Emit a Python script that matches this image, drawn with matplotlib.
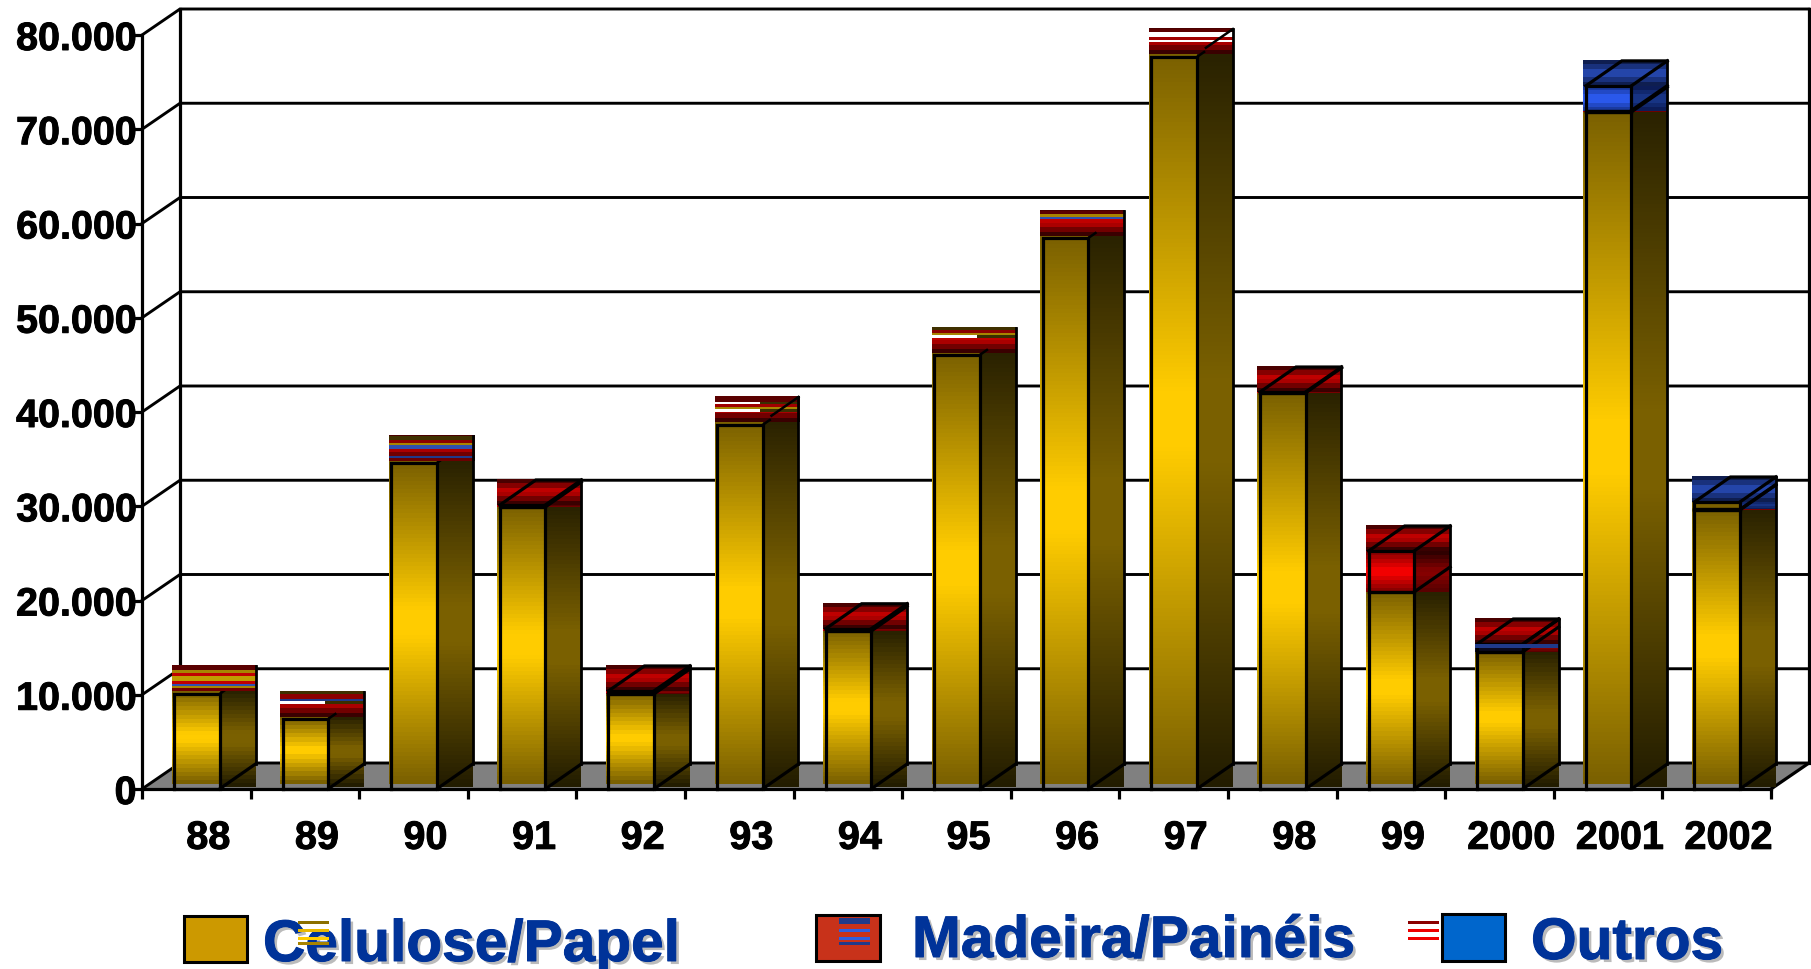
import numpy as np
import matplotlib
matplotlib.use("Agg")
import matplotlib.pyplot as plt
from matplotlib.colors import LinearSegmentedColormap as LSC
from matplotlib.patches import Rectangle, Polygon
from matplotlib.transforms import Affine2D, ScaledTranslation
import matplotlib.patheffects as pe

plt.rcParams['font.family'] = ['Liberation Sans', 'DejaVu Sans']

# ---- data ----
years = ['88', '89', '90', '91', '92', '93', '94', '95', '96', '97', '98', '99', '2000', '2001', '2002']
celulose = [10080, 7430, 34590, 29920, 10080, 38620, 16750, 46050, 58460, 77670, 42020, 20900, 14540, 71830, 29600]
madeira = [220, 180, 130, 210, 320, 240, 250, 130, 130, 310, 100, 4350, 805, 150, 60]
outros = [100, 60, 80, 0, 0, 80, 0, 80, 80, 0, 0, 0, 40, 2620, 790]
y_ticks = [0, 10000, 20000, 30000, 40000, 50000, 60000, 70000, 80000]
y_labels = ['0', '10.000', '20.000', '30.000', '40.000', '50.000', '60.000', '70.000', '80.000']
legend_names = ['Celulose/Papel', 'Madeira/Painéis', 'Outros']

# ---- layout ----
W, H = 1811, 970
X0, X1, Y0, Y1 = 142, 1771, 790, 36
PX = 15 / (X1 - X0)
PY = 80000 / (Y0 - Y1)
WALL_X, WALL_Y = 38 * PX, 26 * PY
BAR_LEFT, BAR_W = 32 * PX, 45.5 * PX
DEPTH_X, DEPTH_Y = 36 * PX, 25 * PY
LW = 2.3
GOLD_F = [(0, '#7a6000'), (.46, '#ffcc00'), (.54, '#ffcc00'), (1, '#7a6000')]
GOLD_S = [(0, '#221c00'), (.44, '#7a6000'), (.56, '#7a6000'), (1, '#2a2200')]
RED_F = [(0, '#8b0000'), (.5, '#ff0000'), (1, '#8b0000')]
RED_S = [(0, '#5a0000'), (.5, '#8b0000'), (1, '#300000')]
RED_C = [(0, '#3a0000'), (.45, '#b80000'), (.6, '#c00000'), (1, '#4a0000')]
BLUE_F = [(0, '#1a3aa0'), (.5, '#2f60ff'), (1, '#1a3aa0')]
BLUE_S = [(0, '#0c1c58'), (.5, '#1a3a90'), (1, '#0c1c58')]
BLUE_C = [(0, '#0f1e50'), (.5, '#2a4fc0'), (1, '#0f1e50')]
# very low boxes whose front face is not drawn in its own colour
THIN_FRONT = {12: [(0, '#0a0a20'), (1, '#0a0a20')], 14: [(0, '#7a6000'), (1, '#7a6000')]}

DR, RD, GD, BL, DB, OL = '#5a0000', '#8b0000', '#a88400', '#2f4fb0', '#1f3a8a', '#3f3000'
# thin bands seen across the caps: (from, to, colour, colour on the side face), as fractions of the cap
STRIPES = {
    0: [(0, .19, DR, DR), (.19, .31, GD, GD), (.31, .42, '#c00000', '#c00000'), (.42, .62, '#c09c00', '#c09c00'),
        (.62, .73, '#c00000', '#c00000'), (.73, .82, BL, BL), (.82, .88, GD, GD), (.88, 1, '#700000', '#700000')],
    1: [(0, .12, OL, OL), (.12, .31, RD, RD), (.31, .39, DB, DB), (.39, .5, 'white', '#3a2e00')],
    2: [(0, .19, OL, OL), (.19, .31, RD, RD), (.31, .38, GD, GD), (.38, .51, BL, BL), (.82, .9, DB, DB), (.9, 1, '#6a0000', '#6a0000')],
    5: [(0, .23, DR, DR), (.23, .31, 'white', '#3a2e00'), (.31, .42, '#a00000', '#a00000'),
        (.42, .5, GD, GD), (.5, .62, 'white', '#3a2e00')],
    7: [(0, .1, OL, OL), (.1, .21, RD, RD), (.21, .29, GD, GD), (.29, .41, 'white', '#3a2e00')],
    8: [(0, .125, DR, DR), (.125, .25, GD, GD), (.25, .35, BL, BL)],
    9: [(0, .12, DR, DR), (.12, .32, 'white', 'white'), (.32, .44, '#a00000', '#a00000'), (.44, .52, 'white', 'white')],
    12: [(1.0, 1.15, DB, DB)],
}
BANDED = (0, 1, 2, 5, 7, 8, 9)

fig = plt.figure(figsize=(W / 100, H / 100), dpi=100, facecolor='white')
ax = fig.add_axes([X0 / W, (H - Y0) / H, (X1 - X0) / W, (Y0 - Y1) / H])
ax.patch.set_visible(False)


def grad(x0, x1, y0, y1, stops, z=5):
    n = max(6, int(abs(y1 - y0) / PY / 4))
    cm = LSC.from_list('g', stops, N=n)
    im = ax.imshow(np.linspace(0, 1, n)[:, None], cmap=cm, extent=(x0, x1, y0, y1), origin='lower',
                   aspect='auto', zorder=z, interpolation='nearest', vmin=0, vmax=1)
    im.set_clip_on(False)


def line(xs, ys, z=5, lw=LW, cap='projecting'):
    ax.plot(xs, ys, color='black', lw=lw, zorder=z, clip_on=False, solid_capstyle=cap, solid_joinstyle='miter')


# walls and floor
ax.add_patch(Polygon([(0, 0), (15, 0), (15 + WALL_X, WALL_Y), (WALL_X, WALL_Y)], closed=True,
                     facecolor='#808080', edgecolor='none', zorder=1, clip_on=False))
for v in y_ticks:
    line([0, WALL_X, 15 + WALL_X], [v, v + WALL_Y, v + WALL_Y], z=2, lw=2.1)
line([WALL_X, WALL_X], [WALL_Y, 80000 + WALL_Y], z=2)
line([15 + WALL_X, 15 + WALL_X], [WALL_Y, 80000 + WALL_Y], z=2)
line([15, 15 + WALL_X], [0, WALL_Y], z=2)

# bars
for i in range(len(years)):
    x0 = i + BAR_LEFT
    x1 = x0 + BAR_W
    x2 = x1 + DEPTH_X
    fringe = 2.5 * PX
    segs = [(0, celulose[i], GOLD_F, GOLD_S)]
    b = celulose[i]
    segs.append((b, b + madeira[i], RED_F, RED_S))
    b += madeira[i]
    if outros[i]:
        segs.append((b, b + outros[i], BLUE_F, BLUE_S))
        b += outros[i]
    total = b
    banded = i in BANDED
    drawn = segs[:1] if banded else segs
    for k, (a, c, f, s) in enumerate(drawn):
        low = 5 * PY if k == 0 else 0
        front = f
        if k > 0 and (c - a) < 1000 and i in THIN_FRONT:
            front = THIN_FRONT[i]
        upper = max(total, c + 1.5 * PY) if (banded and k == 0) else c + (1.5 * PY if k == 0 else 0)
        grad(x0 - fringe, x1, a + low, upper, front)
        grad(x1, x2, a + low * 0.4, total if banded else c, s)
    cap = BLUE_C if outros[i] > madeira[i] else RED_C
    top = total + DEPTH_Y + 0.5 * PY
    grad(x0 - fringe, x2 + 1 * PX, total, top, cap)
    for a, c, f, s in drawn:
        line([x0, x0, x1, x1, x0], [a, c, c, a, a])
        if not banded:
            line([x1, x2], [c, c + DEPTH_Y])
    line([x1, x2], [0, DEPTH_Y])
    if banded:
        line([x1, x1 + 0.2 * DEPTH_X], [celulose[i], celulose[i] + 0.2 * DEPTH_Y], lw=1.8)
    else:
        line([x0, x0 + DEPTH_X, x2], [total, total + DEPTH_Y, total + DEPTH_Y])
    for fa, fb, c, cs in STRIPES.get(i, []):
        ya = top - fb * (top - total)
        yb = top - fa * (top - total)
        xm = x1 - 3 * PX
        ax.add_patch(Rectangle((x0 - fringe, ya), xm - x0 + fringe, yb - ya, facecolor=c, edgecolor='none',
                               zorder=5, clip_on=False))
        ax.add_patch(Rectangle((xm, ya), x2 + PX - xm, yb - ya, facecolor=cs, edgecolor='none',
                               zorder=5, clip_on=False))
    if i in (5, 9):
        line([x2 - 0.75 * DEPTH_X, x2], [total + DEPTH_Y * .25, total + DEPTH_Y], lw=1.8)
    line([x2, x2], [DEPTH_Y, total + DEPTH_Y], lw=2.0)

# axes
ax.set_xlim(0, 15)
ax.set_ylim(0, 80000)
for side in ('top', 'right'):
    ax.spines[side].set_visible(False)
for side in ('left', 'bottom'):
    ax.spines[side].set_linewidth(LW)
    ax.spines[side].set_zorder(50)
ax.set_yticks(y_ticks, y_labels)
ax.set_xticks(np.arange(16))
ax.set_xticklabels([])
ax.set_xticks(np.arange(15) + 0.5 + 12 * PX, years, minor=True)
ax.tick_params(axis='y', length=7.2, width=LW, pad=-3.2, labelsize=28.4, zorder=50)
ax.tick_params(axis='x', which='major', length=7.2, width=LW, zorder=50)
ax.tick_params(axis='x', which='minor', length=0, pad=21.5, labelsize=28.5)
bolder = [pe.withStroke(linewidth=0.7, foreground='black')]
for t in ax.get_yticklabels() + ax.get_xticklabels(minor=True):
    t.set_fontweight('bold')
    t.set_path_effects(bolder)
for t in ax.get_yticklabels():
    t.set_transform(t.get_transform() + ScaledTranslation(0, -1 / 100, fig.dpi_scale_trans))

# legend, placed in picture pixels (y down)
tr = Affine2D().scale(1, -1).translate(0, H)
swatches = [(184, 917, 63, 46, '#cc9900'), (816, 916, 64, 46, '#c8321a'), (1442, 915, 63, 47, '#0066cc')]
for (x, y, w, h, c) in swatches:
    fig.add_artist(Rectangle((x, y), w, h, facecolor=c, edgecolor='black', lw=2.2, transform=tr, zorder=3))
shadow = [pe.SimplePatchShadow(offset=(2.2, -2.2), shadow_rgbFace='#bbbbbb', alpha=1),
          pe.Stroke(linewidth=0.7, foreground='#003399'), pe.Normal()]
for name, x, base in zip(legend_names, (263, 912, 1531), (962, 958, 960)):
    fig.text(x, base, name, transform=tr, fontsize=42.2, fontweight='bold', color='#003399',
             va='baseline', ha='left', path_effects=shadow, zorder=4)
marks = [
    (298, 31, [(922, 3, '#8b7000'), (930, 3, '#e8b800'), (938, 3, '#ffcc00'), (943, 3, '#a88400')]),
    (839, 31, [(919, 6, '#1f3a8a'), (930, 3, '#2f5fe0'), (938, 3, '#2f5fe0'), (943, 3, '#1f3a8a')]),
    (1408, 31, [(922, 3, '#8b0000'), (930, 3, '#ee0000'), (938, 3, '#ee0000')]),
]
for x, w, rows in marks:
    for y, h, c in rows:
        fig.add_artist(Rectangle((x, y), w, h, facecolor=c, edgecolor='none', transform=tr, zorder=5))

fig.savefig('out.png', dpi=100, facecolor='white')
